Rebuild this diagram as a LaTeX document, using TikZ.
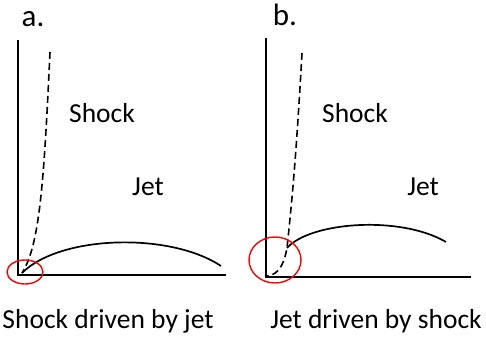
\documentclass[tikz,border=0pt]{standalone}
\usepackage{fontspec}
\setmainfont{Carlito}
\usetikzlibrary{positioning,calc}
\tikzset{every picture/.style={line width=0.75pt}}

\begin{document}
\begin{tikzpicture}[x=1pt,y=-1pt,
    axis/.style={line width=2.2pt},
    jetline/.style={line width=1.7pt},
    shockline/.style={line width=1.6pt,dash pattern=on 7pt off 4pt},
    ring/.style={red,line width=1.4pt},
    lbl/.style={anchor=base,font=\fontsize{27.5}{32}\selectfont},
    tag/.style={anchor=base,font=\fontsize{31}{36}\selectfont}]
    \useasboundingbox (0,0) rectangle (486,342);

    % Panel a
    \node[tag] (tagA) at (33,27) {a.};
    \draw[axis] (18,40) -- (18,275) -- (226,275);
    \coordinate (originA) at (22,273);
    \draw[shockline] (50,52) .. controls (44,180) and (40,245) .. (originA);
    \draw[jetline] (originA) .. controls (60,235) and (170,232) .. (221,266);
    \draw[ring] (25,272) ellipse (18 and 12);
    \node[lbl] (shockA) at (102,122) {Shock};
    \node[lbl] (jetA) at (148,195) {Jet};
    \node[lbl] (captionA) at (108,328) {Shock driven by jet};

    % Panel b
    \node[tag] (tagB) at (285,26) {b.};
    \draw[axis] (266,38) -- (266,277) -- (471,277);
    \coordinate (launchB) at (287,248);
    \draw[shockline] (302,53) .. controls (296,160) and (292,200) .. (launchB)
        .. controls (283,270) and (275,276) .. (265,276);
    \draw[jetline] (launchB) .. controls (310,222) and (400,215) .. (446,242);
    \draw[ring] (275,260) ellipse (26 and 23);
    \node[lbl] (shockB) at (355,122) {Shock};
    \node[lbl] (jetB) at (423,195) {Jet};
    \node[lbl] (captionB) at (376,328) {Jet driven by shock};
\end{tikzpicture}
\end{document}
